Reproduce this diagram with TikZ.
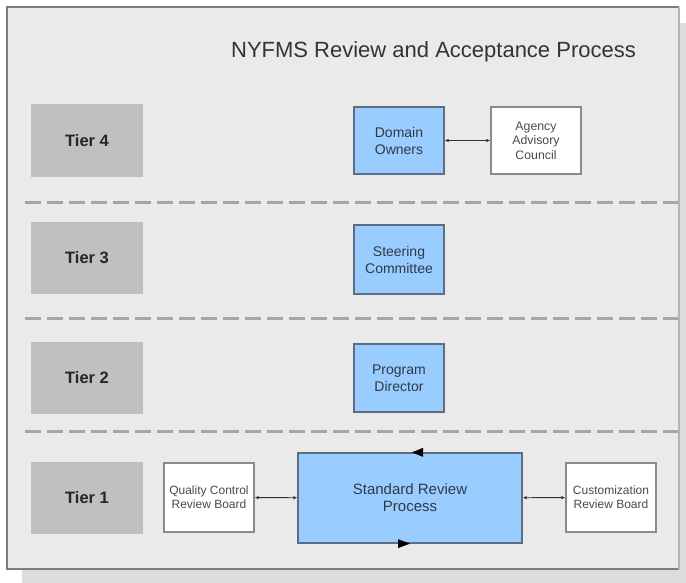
\documentclass[tikz,border=0pt]{standalone}
\usepackage{fontspec}
\setmainfont{Liberation Sans}
\usetikzlibrary{arrows.meta}
\definecolor{bgframe}{HTML}{EAEAEA}
\definecolor{framecol}{HTML}{7C7C7C}
\definecolor{frameright}{HTML}{B4B4B4}
\definecolor{shadowcol}{HTML}{DCDCDC}
\definecolor{tiercol}{HTML}{C0C0C0}
\definecolor{bluefill}{HTML}{99CCFF}
\definecolor{blueborder}{HTML}{5E6E80}
\definecolor{whiteborder}{HTML}{8A8A8A}
\definecolor{dashcol}{HTML}{A6A6A6}
\definecolor{txtdark}{HTML}{2E3A46}
\definecolor{txtgray}{HTML}{4A4A4A}
\tikzset{
  tierbox/.style={fill=tiercol, draw=none, minimum width=112pt, minimum height=72pt,
    font=\fontsize{16.5}{18}\selectfont\bfseries, text=black!85, inner sep=0pt},
  bluebox/.style={fill=bluefill, draw=blueborder, line width=1.3pt, inner sep=0pt,
    font=\fontsize{14}{17}\selectfont, text=txtdark, align=center},
  whitebox/.style={fill=white, draw=whiteborder, line width=1.3pt, inner sep=0pt,
    font=\fontsize{12}{14}\selectfont, text=txtgray, align=center},
  tierline/.style={draw=dashcol, line width=3pt, dash pattern=on 15.5pt off 6.5pt},
  biarrow/.style={draw=black!80, line width=0.9pt, {Latex[length=4pt,width=3.5pt]}-{Latex[length=4pt,width=3.5pt]}},
  cyctip/.style={fill=black}
}
\begin{document}
\begin{tikzpicture}[x=1pt,y=-1pt]
\useasboundingbox (0,0) rectangle (686,583);
% shadow and frame
\fill[shadowcol] (22,23) rectangle (686,583);
\fill[bgframe] (7,7) rectangle (679,569);
\coordinate (ftl) at (7,7); \coordinate (ftr) at (679,7);
\coordinate (fbl) at (7,569); \coordinate (fbr) at (679,569);
\draw[framecol, line width=1.5pt] (ftr) -- (ftl) -- (fbl) -- (fbr);
\draw[frameright, line width=1.2pt] (ftr) -- (fbr);
% title
\node[font=\fontsize{22}{25}\selectfont, text=black!80] (title) at (433.5,52) {NYFMS Review and Acceptance Process};
% dashed separators
\coordinate (d1a) at (25,202.5); \coordinate (d1b) at (678,202.5);
\coordinate (d2a) at (25,318);   \coordinate (d2b) at (678,318);
\coordinate (d3a) at (25,431);   \coordinate (d3b) at (678,431);
\draw[tierline] (d1a) -- (d1b);
\draw[tierline] (d2a) -- (d2b);
\draw[tierline] (d3a) -- (d3b);
% tier labels
\node[tierbox, minimum height=73pt] (tier4) at (87,140.5) {Tier 4};
\node[tierbox] (tier3) at (87,258) {Tier 3};
\node[tierbox] (tier2) at (87,378) {Tier 2};
\node[tierbox] (tier1) at (87,498) {Tier 1};
% tier 4
\node[bluebox, minimum width=90pt, minimum height=67pt] (dom) at (399,140.5) {Domain\\Owners};
\node[whitebox, minimum width=90pt, minimum height=67pt, font=\fontsize{12.3}{14.5}\selectfont] (aac) at (536,140.5) {Agency\\Advisory\\Council};
\draw[biarrow] (dom) -- (aac);
% tier 3
\node[bluebox, minimum width=90pt, minimum height=69pt] (steer) at (399,259.5) {Steering\\Committee};
% tier 2
\node[bluebox, minimum width=90pt, minimum height=68pt] (prog) at (399,378) {Program\\Director};
% tier 1
\node[whitebox, minimum width=90pt, minimum height=69pt] (qc) at (209,497.5) {Quality Control\\Review Board};
\node[bluebox, minimum width=224pt, minimum height=90pt, font=\fontsize{15}{17}\selectfont] (srp) at (410,498) {Standard Review\\Process};
\node[whitebox, minimum width=90pt, minimum height=69pt] (cust) at (611,497.5) {Customization\\Review Board};
\draw[biarrow] (qc) -- (srp);
\draw[biarrow] (srp) -- (cust);
% cycle arrowheads on the Standard Review box
\fill[cyctip] ([xshift=2pt]srp.north) -- ([xshift=13pt,yshift=4.5pt]srp.north) -- ([xshift=13pt,yshift=-4.5pt]srp.north) -- cycle;
\fill[cyctip] ([xshift=0pt]srp.south) -- ([xshift=-12pt,yshift=4.5pt]srp.south) -- ([xshift=-12pt,yshift=-4.5pt]srp.south) -- cycle;
\end{tikzpicture}
\end{document}
